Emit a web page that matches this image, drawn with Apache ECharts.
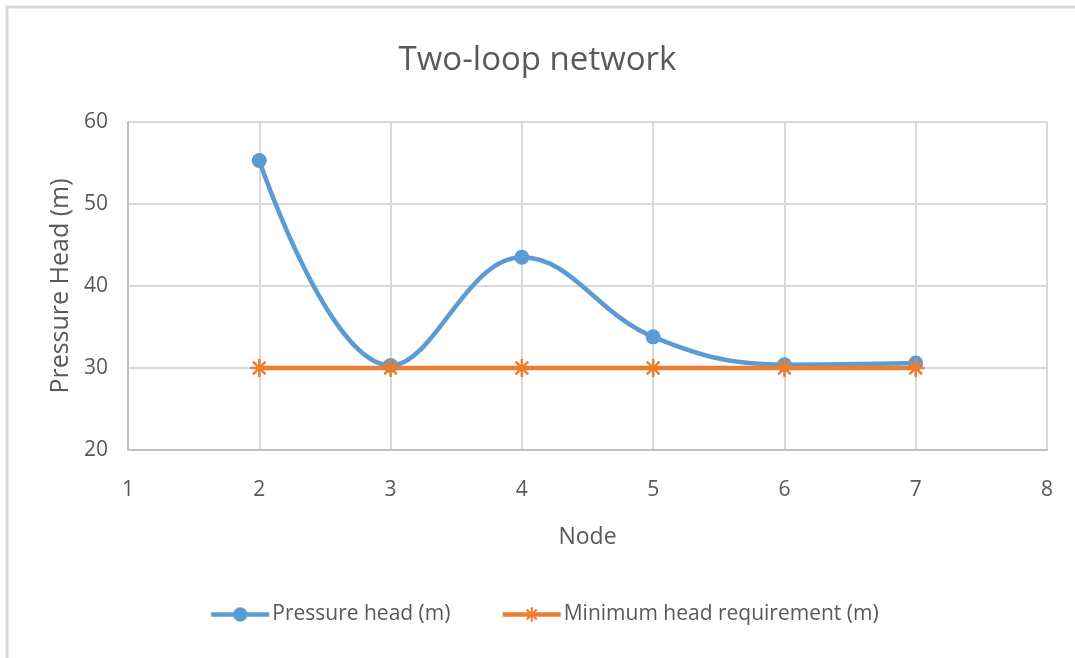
<!DOCTYPE html>
<html>
<head>
<meta charset="utf-8">
<script src="https://cdn.jsdelivr.net/npm/echarts@6/dist/echarts.min.js"></script>
<style>
  html, body { margin: 0; padding: 0; background: #fff; }
  #chart { width: 1075px; height: 658px; }
</style>
</head>
<body>
<div id="chart"></div>
<script>
// Node numbers and heads along the two-loop network
const nodes = [2, 3, 4, 5, 6, 7];
const pressureHead = [55.3, 30.3, 43.5, 33.8, 30.4, 30.6];
const minimumHead = [30, 30, 30, 30, 30, 30];

const FONT = '"Open Sans", "Noto Sans", sans-serif';
const TEXT = '#595959';

const chart = echarts.init(document.getElementById('chart'));

// Asterisk marker drawn as strokes
const asterisk = 'path://M0,5L10,5M5,0L5,10M1.5,1.5L8.5,8.5M8.5,1.5L1.5,8.5';

chart.setOption({
  backgroundColor: '#ffffff',
  animation: false,
  title: {
    text: 'Two-loop network',
    left: 'center',
    top: 39,
    textStyle: { color: TEXT, fontFamily: FONT, fontSize: 33, fontWeight: 'normal' }
  },
  graphic: [{
    type: 'polyline',
    shape: { points: [[7, 658], [7, 7], [1075, 7]] },
    style: { stroke: '#d9d9d9', lineWidth: 3, fill: null }
  }],
  legend: {
    bottom: 28,
    left: 204,
    itemWidth: 58,
    itemHeight: 18,
    itemGap: 50,
    lineStyle: { width: 4.5 },
    textStyle: { color: TEXT, fontFamily: FONT, fontSize: 21, padding: [0, 0, 0, -2] },
    data: ['Pressure head (m)', 'Minimum head requirement (m)']
  },
  grid: { left: 128, right: 28, top: 122, bottom: 208 },
  xAxis: {
    type: 'value',
    min: 1, max: 8, interval: 1,
    name: 'Node',
    nameLocation: 'middle',
    nameGap: 76,
    nameTextStyle: { color: TEXT, fontFamily: FONT, fontSize: 23 },
    axisLine: { show: true, lineStyle: { color: '#bfbfbf', width: 2 } },
    axisTick: { show: false },
    axisLabel: { color: TEXT, fontFamily: FONT, fontSize: 21, margin: 30 },
    splitLine: { show: true, lineStyle: { color: '#d9d9d9', width: 2 } }
  },
  yAxis: {
    type: 'value',
    min: 20, max: 60, interval: 10,
    name: 'Pressure Head (m)',
    nameLocation: 'middle',
    nameGap: 52,
    nameTextStyle: { color: TEXT, fontFamily: FONT, fontSize: 25 },
    axisLine: { show: true, lineStyle: { color: '#bfbfbf', width: 2 } },
    axisTick: { show: false },
    axisLabel: { color: TEXT, fontFamily: FONT, fontSize: 21, margin: 20 },
    splitLine: { show: true, lineStyle: { color: '#d9d9d9', width: 2 } }
  },
  series: [
    {
      name: 'Pressure head (m)',
      type: 'line',
      smooth: 0.4,
      data: nodes.map((n, i) => [n, pressureHead[i]]),
      symbol: 'circle',
      symbolSize: 15,
      lineStyle: { color: '#5b9bd5', width: 4.5 },
      itemStyle: { color: '#5b9bd5' },
      z: 2
    },
    {
      name: 'Minimum head requirement (m)',
      type: 'line',
      data: nodes.map((n, i) => [n, minimumHead[i]]),
      symbol: asterisk,
      symbolSize: 18,
      lineStyle: { color: '#ed7d31', width: 4.5 },
      itemStyle: { color: 'none', borderColor: '#ed7d31', borderWidth: 2.5 },
      z: 3
    }
  ]
});
</script>
</body>
</html>
